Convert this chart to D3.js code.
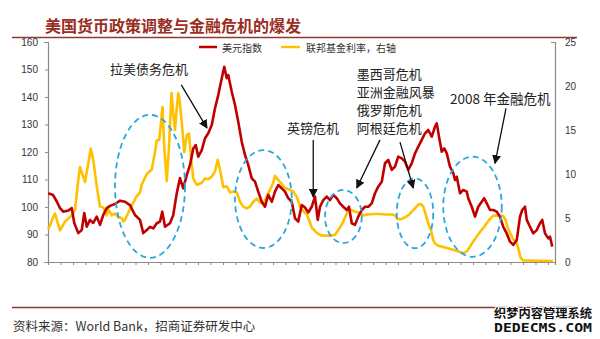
<!DOCTYPE html>
<html><head><meta charset="utf-8">
<script src="https://cdn.jsdelivr.net/npm/d3@7"></script>
<style>
html,body{margin:0;padding:0;background:#fff;}
svg{display:block;}
</style></head>
<body>
<svg id="chart" width="600" height="339"></svg>
<script>
// ---------- DATA ----------
const usdYears = [1971.02,1971.4,1971.7,1971.96,1972.22,1972.62,1972.9,1973.1,1973.42,1973.7,1973.9,1974.1,1974.36,1974.62,1974.9,1975.16,1975.42,1975.7,1975.96,1976.36,1976.76,1977.16,1977.56,1977.96,1978.36,1978.62,1978.9,1979.16,1979.42,1979.7,1979.96,1980.14,1980.36,1980.76,1981.02,1981.3,1981.56,1981.82,1982.1,1982.36,1982.62,1982.82,1983.02,1983.3,1983.56,1983.82,1984.1,1984.36,1984.62,1984.9,1985.1,1985.3,1985.42,1985.7,1985.96,1986.22,1986.5,1986.76,1987.02,1987.3,1987.56,1987.82,1988.1,1988.36,1988.62,1988.9,1989.16,1989.42,1989.7,1989.96,1990.22,1990.5,1990.76,1991.02,1991.3,1991.56,1991.82,1992.1,1992.36,1992.58,1992.76,1993.02,1993.3,1993.56,1993.82,1994.1,1994.36,1994.62,1994.9,1995.08,1995.3,1995.56,1995.82,1996.1,1996.36,1996.62,1996.9,1997.16,1997.42,1997.7,1997.96,1998.22,1998.5,1998.76,1999.02,1999.3,1999.56,1999.82,2000.1,2000.36,2000.62,2000.9,2001.16,2001.42,2001.7,2001.96,2002.1,2002.28,2002.5,2002.7,2002.9,2003.16,2003.42,2003.56,2003.7,2003.96,2004.22,2004.5,2004.62,2004.9,2005.16,2005.42,2005.7,2005.9,2006.1,2006.36,2006.62,2006.9,2007.16,2007.42,2007.7,2007.96,2008.22,2008.5,2008.76,2008.94,2009.16,2009.3,2009.56,2009.82,2010.1,2010.36,2010.54,2010.76,2011.02,2011.16,2011.34];
const usdValues = [105,104.4,102,99.6,98.3,98.7,99.6,94.2,90.5,91.6,97.8,92.8,95.3,94.2,96.5,93.5,97.1,99.6,100.4,101.1,102.3,101.9,100.7,97.1,95.3,90.5,91.6,92.8,92.2,94.1,94.7,98.3,92.8,94.1,97.1,105,110.5,106.8,111.6,115.3,121.3,122.5,118.3,120.7,125,126.8,129.8,135.9,140.7,146.8,151,146.8,148,141.9,137.1,131,123.7,118.9,115.3,110.4,109.2,105.6,101.9,100.1,104.4,101.9,105.6,108,106.8,105.6,103.2,101.9,95.9,94.7,100.7,99.8,98,100.1,103.8,95.3,100.1,102.5,103.8,102.5,104.4,103.2,101.3,100.1,98.9,100.1,94.1,93.5,96.5,98.9,100.1,100.1,101.3,105,107.4,109.2,115.9,117.1,113.5,114.7,118.3,117.7,116.5,113.5,115.9,119.5,121.9,124.4,126.8,128,125.6,129.2,130.4,125.6,120.1,121.3,119.5,114.7,112.3,109.8,111,105,106.2,105.6,103.2,100.1,96.5,100.1,101.9,103.2,101.3,98.9,98.9,98.3,96.5,92.8,90.4,87.4,86.2,88,96.5,98.9,100.1,95.3,92.8,90.4,91.6,94.1,95.3,90.4,88.6,89.2,85.6];

const ffrYears = [1971.02,1971.42,1971.56,1971.96,1972.36,1972.9,1973.16,1973.42,1973.56,1973.96,1974.22,1974.42,1974.62,1974.9,1975.16,1975.42,1975.7,1975.82,1976.1,1976.36,1976.62,1976.9,1977.02,1977.16,1977.42,1977.7,1978.1,1978.36,1978.5,1978.9,1979.3,1979.56,1979.7,1979.9,1979.98,1980.16,1980.3,1980.5,1980.68,1980.88,1981.02,1981.16,1981.3,1981.42,1981.52,1981.7,1981.9,1982.1,1982.28,1982.5,1982.62,1982.9,1983.3,1983.56,1983.82,1984.1,1984.36,1984.58,1984.76,1985.02,1985.3,1985.56,1985.82,1986.1,1986.36,1986.62,1986.9,1987.16,1987.42,1987.7,1987.96,1988.22,1988.62,1989.02,1989.16,1989.42,1989.7,1989.96,1990.36,1990.62,1990.9,1991.16,1991.42,1991.7,1991.96,1992.1,1992.5,1992.9,1993.3,1993.7,1993.96,1994.3,1994.6,1994.8,1995.0,1995.3,1995.6,1995.9,1996.2,1996.6,1997.0,1997.5,1998.0,1998.5,1998.76,1998.95,1999.2,1999.6,1999.9,2000.3,2000.6,2000.8,2001.02,2001.2,2001.42,2001.64,2001.82,2001.96,2002.22,2002.6,2003.0,2003.6,2004.0,2004.22,2004.5,2004.7,2005.1,2005.5,2005.9,2006.3,2006.6,2007.0,2007.4,2007.6,2007.8,2008.0,2008.2,2008.5,2008.65,2008.8,2009.0,2010.0,2011.4];
const ffrValues = [3.7,5.1,5.5,3.6,4.6,5.3,5.9,9.3,10.8,9.1,11.2,12.9,11.6,8.6,6.3,6.2,5.3,6.0,5.3,5.5,5.1,5.0,4.6,4.8,5.6,6.4,7.5,7.9,8.8,10.0,10.5,12.5,13.8,13.9,15.0,17.6,13.1,9.2,13.1,19.2,16.9,15.0,17.5,19.2,18.5,15.9,12.5,14.4,14.6,11.0,9.5,8.75,9.0,9.5,9.4,9.7,10.3,11.6,10.5,8.5,8.6,7.9,8.0,7.9,6.85,6.3,6.1,6.3,6.85,7.2,6.8,6.6,7.8,9.0,9.8,9.3,8.9,8.4,8.2,8.0,7.4,6.3,5.8,5.4,4.5,3.9,3.3,3.0,3.0,3.0,3.1,3.8,4.5,5.2,5.8,5.9,5.7,5.6,5.3,5.4,5.45,5.45,5.4,5.4,5.3,4.9,4.85,5.1,5.4,6.0,6.5,6.6,6.3,5.5,4.4,3.6,2.5,2.1,1.85,1.7,1.55,1.3,1.1,1.0,1.2,1.6,2.5,3.3,4.0,4.8,5.25,5.3,5.25,4.8,3.8,3.2,2.6,2.2,1.4,0.5,0.18,0.15,0.12];

const leftTicks = [80, 90, 100, 110, 120, 130, 140, 150, 160];
const rightTicks = [0, 5, 10, 15, 20, 25];
const yearTicks = d3.range(1971, 2012);

const seriesNames = ["美元指数", "联邦基金利率，右轴"];
const titleText = "美国货币政策调整与金融危机的爆发";
const sourceText = "资料来源：World Bank，招商证券研发中心";

// crisis ellipses: year range and index range (left axis units)
const crisisYearStart = [1976.36, 1985.96, 1993.16, 1998.9, 2002.62];
const crisisYearEnd   = [1981.96, 1990.5, 1996.1, 2001.82, 2007.3];
const crisisValLow    = [81.5, 85.1, 86.9, 85.0, 81.9];
const crisisValHigh   = [133.5, 120.7, 106.2, 110.4, 118.3];

// annotation labels (anchor in year / index units)
const noteTexts = ["拉美债务危机", "英镑危机", "墨西哥危机", "亚洲金融风暴", "俄罗斯危机", "阿根廷危机", "2008 年金融危机"];
const noteYears = [1975.96, 1990.12, 1995.7, 1995.7, 1995.7, 1995.7, 2003.16];
const noteVals  = [150.5, 128.9, 148.7, 142.0, 135.3, 128.9, 139.6];

// arrows (from -> to, year / index units)
const arrowFromYear = [1981.66, 1992.22, 1997.56, 1999.16, 2007.64];
const arrowFromVal  = [144.4, 124.4, 124.4, 123.6, 135.9];
const arrowToYear   = [1983.72, 1992.22, 1995.7, 2000.22, 2006.76];
const arrowToVal    = [128.7, 103.6, 106.9, 106.9, 115.9];

// ---------- LAYOUT ----------
const svg = d3.select("#chart");
const X0 = 48, X1 = 555, Y0 = 262, Y1 = 42;
const x = d3.scaleLinear().domain([1971, 2011.56]).range([X0, X1]);
const yL = d3.scaleLinear().domain([80, 160]).range([Y0, Y1]);
const yR = d3.scaleLinear().domain([0, 25]).range([Y0, Y1]);

const RED = "#c00000", YEL = "#ffc000", BLUE = "#2aa8de", BROWN = "#9a2e22";
const cjk = "'Noto Sans CJK SC','Noto Sans',sans-serif";
const latin = "'Liberation Sans',Arial,sans-serif";

// title
svg.append("text").attr("x", 45).attr("y", 25).attr("dominant-baseline", "central")
  .attr("font-family", cjk).attr("font-size", 16).attr("font-weight", "bold")
  .attr("fill", BROWN).text(titleText);
svg.append("line").attr("x1", 12).attr("x2", 577).attr("y1", 37.5).attr("y2", 37.5)
  .attr("stroke", "#8e3a36").attr("stroke-width", 1.6);
svg.append("line").attr("x1", 12).attr("x2", 577).attr("y1", 307.5).attr("y2", 307.5)
  .attr("stroke", "#8e3a36").attr("stroke-width", 1.6);
svg.append("text").attr("x", 13).attr("y", 325).attr("dominant-baseline", "central")
  .attr("font-family", cjk).attr("font-size", 12.5).attr("fill", "#333").text(sourceText);

// watermark
const wm = svg.append("g").attr("font-weight", "bold").attr("fill", "#111")
  .attr("stroke", "#fff").attr("stroke-width", 2).attr("paint-order", "stroke");
wm.append("text").attr("x", 494).attr("y", 312).attr("dominant-baseline", "central")
  .attr("font-family", cjk).attr("font-size", 12).attr("textLength", 98)
  .attr("lengthAdjust", "spacingAndGlyphs").text("织梦内容管理系统");
wm.append("text").attr("x", 494).attr("y", 327).attr("dominant-baseline", "central")
  .attr("font-family", "'DejaVu Sans Mono',monospace").attr("font-size", 13).attr("textLength", 98)
  .attr("lengthAdjust", "spacingAndGlyphs").text("DEDECMS.COM");

// axes
const axisColor = "#8a8a8a";
const gL = svg.append("g").attr("transform", `translate(${X0},0)`)
  .call(d3.axisLeft(yL).tickValues(leftTicks).tickSize(4).tickPadding(6));
const gR = svg.append("g").attr("transform", `translate(${X1},0)`)
  .call(d3.axisRight(yR).tickValues(rightTicks).tickSize(-4).tickPadding(10));
const gX = svg.append("g").attr("transform", `translate(0,${Y0})`)
  .call(d3.axisBottom(x).tickValues(yearTicks).tickSize(3).tickFormat(""));
[gL, gR, gX].forEach(g => {
  g.select(".domain").attr("stroke", axisColor).attr("stroke-width", 1.2);
  g.selectAll(".tick line").attr("stroke", axisColor);
  g.selectAll("text").attr("font-family", latin).attr("font-size", 10).attr("fill", "#333");
});
gR.selectAll(".tick line").attr("x2", 0);
gR.selectAll(".tick").filter(d => d === 25).select("line").attr("x2", -4);
gL.selectAll(".tick").filter(d => d !== 160).select("line").attr("x2", -3);

// legend
const lg = svg.append("g").attr("font-family", cjk).attr("font-size", 10).attr("fill", "#333");
lg.append("line").attr("x1", 199).attr("x2", 217).attr("y1", 47).attr("y2", 47).attr("stroke", RED).attr("stroke-width", 2.5);
lg.append("text").attr("x", 222).attr("y", 47).attr("dominant-baseline", "central").text(seriesNames[0]);
lg.append("line").attr("x1", 281).attr("x2", 300).attr("y1", 47).attr("y2", 47).attr("stroke", YEL).attr("stroke-width", 2.5);
lg.append("text").attr("x", 306).attr("y", 47).attr("dominant-baseline", "central").text(seriesNames[1]);

// lines
const ffrLine = d3.line().x((d, i) => x(ffrYears[i])).y(d => yR(d));
const usdLine = d3.line().x((d, i) => x(usdYears[i])).y(d => yL(d));
svg.append("path").datum(ffrValues).attr("d", ffrLine).attr("fill", "none")
  .attr("stroke", YEL).attr("stroke-width", 2.6).attr("stroke-linejoin", "round");
svg.append("path").datum(usdValues).attr("d", usdLine).attr("fill", "none")
  .attr("stroke", RED).attr("stroke-width", 2.6).attr("stroke-linejoin", "round");

// crisis ellipses
svg.append("g").selectAll("ellipse").data(crisisYearStart).join("ellipse")
  .attr("cx", (d, i) => (x(d) + x(crisisYearEnd[i])) / 2)
  .attr("cy", (d, i) => (yL(crisisValLow[i]) + yL(crisisValHigh[i])) / 2)
  .attr("rx", (d, i) => (x(crisisYearEnd[i]) - x(d)) / 2)
  .attr("ry", (d, i) => (yL(crisisValLow[i]) - yL(crisisValHigh[i])) / 2)
  .attr("fill", "none").attr("stroke", BLUE).attr("stroke-width", 1.8)
  .attr("stroke-dasharray", "6,4");

// arrows
svg.append("defs").append("marker").attr("id", "ah").attr("viewBox", "0 0 10 10")
  .attr("refX", 9).attr("refY", 5).attr("markerWidth", 9).attr("markerHeight", 9)
  .attr("markerUnits", "userSpaceOnUse").attr("orient", "auto")
  .append("path").attr("d", "M0,0 L10,5 L0,10 Z").attr("fill", "#111");
svg.append("g").selectAll("line").data(arrowFromYear).join("line")
  .attr("x1", d => x(d)).attr("y1", (d, i) => yL(arrowFromVal[i]))
  .attr("x2", (d, i) => x(arrowToYear[i])).attr("y2", (d, i) => yL(arrowToVal[i]))
  .attr("stroke", "#111").attr("stroke-width", 1.3).attr("marker-end", "url(#ah)");

// annotation texts
svg.append("g").selectAll("text").data(noteTexts).join("text")
  .attr("x", (d, i) => x(noteYears[i])).attr("y", (d, i) => yL(noteVals[i]))
  .attr("dominant-baseline", "central").attr("font-family", cjk)
  .attr("font-size", (d, i) => i === 6 ? 13.5 : 13).attr("fill", "#222").text(d => d);
</script>
</body></html>
